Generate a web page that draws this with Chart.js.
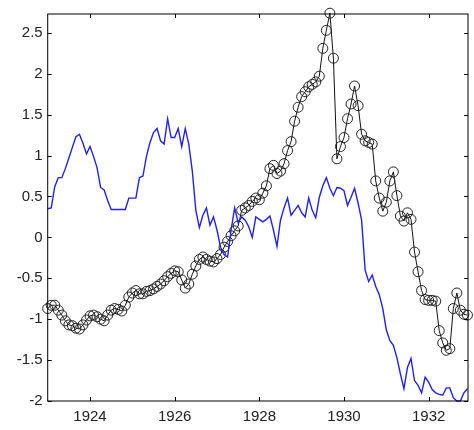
<!DOCTYPE html>
<html>
<head>
<meta charset="utf-8">
<script src="https://cdn.jsdelivr.net/npm/chart.js@4/dist/chart.umd.min.js"></script>
<style>
    html, body { margin: 0; padding: 0; background: #fff; }
    #wrap { width: 474px; height: 430px; }
</style>
</head>
<body>
<div id="wrap"><canvas id="chart" width="474" height="430"></canvas></div>
<script>
// Первый месяц ряда и шаг (помесячные данные)
const startYear = 1923;
const xTicks = [1924, 1926, 1928, 1930, 1932];
const yTicks = [-2, -1.5, -1, -0.5, 0, 0.5, 1, 1.5, 2, 2.5];

// Синяя линия
const blueValues = [
    0.35, 0.36, 0.62, 0.73, 0.73, 0.84, 0.97, 1.10, 1.23, 1.26, 1.15, 1.02,
    1.11, 0.99, 0.85, 0.61, 0.58, 0.45, 0.34, 0.34, 0.34, 0.34, 0.34, 0.48,
    0.48, 0.48, 0.73, 0.75, 0.99, 1.16, 1.28, 1.33, 1.18, 1.14, 1.45, 1.22,
    1.22, 1.33, 1.11, 1.33, 1.14, 0.81, 0.33, 0.12, 0.27, 0.36, 0.15, 0.25,
    0.09, -0.12, -0.21, -0.24, 0.09, 0.36, 0.18, 0.25, 0.21, 0.13, 0.00, 0.25,
    0.22, 0.19, 0.22, 0.26, 0.09, -0.11, 0.21, 0.36, 0.48, 0.27, 0.33, 0.39,
    0.30, 0.25, 0.48, 0.33, 0.24, 0.49, 0.63, 0.73, 0.60, 0.51, 0.61, 0.60,
    0.57, 0.39, 0.49, 0.60, 0.42, 0.21, -0.40, -0.54, -0.46, -0.60, -0.70, -0.87,
    -1.13, -1.26, -1.32, -1.47, -1.67, -1.85, -1.59, -1.48, -1.75, -1.81, -1.90, -1.71,
    -1.77, -1.86, -1.90, -1.92, -1.93, -1.84, -1.84, -1.96, -2.00, -2.00, -1.90, -1.85
];

// Черная линия с кружками
const blackValues = [
    -0.87, -0.83, -0.83, -0.89, -0.95, -1.02, -1.07, -1.08, -1.11, -1.12, -1.07, -1.01,
    -0.96, -0.95, -0.97, -1.00, -1.02, -0.95, -0.89, -0.87, -0.88, -0.90, -0.83, -0.73,
    -0.68, -0.65, -0.69, -0.69, -0.66, -0.65, -0.63, -0.60, -0.57, -0.53, -0.48, -0.44,
    -0.41, -0.42, -0.52, -0.62, -0.57, -0.45, -0.35, -0.27, -0.24, -0.27, -0.29, -0.30,
    -0.26, -0.21, -0.12, -0.05, 0.02, 0.08, 0.14, 0.33, 0.36, 0.39, 0.44, 0.48,
    0.46, 0.54, 0.63, 0.84, 0.88, 0.78, 0.81, 0.90, 1.06, 1.17, 1.42, 1.59,
    1.72, 1.78, 1.84, 1.87, 1.90, 1.97, 2.31, 2.53, 2.74, 2.19, 0.96, 1.11,
    1.22, 1.45, 1.63, 1.85, 1.61, 1.26, 1.18, 1.16, 1.14, 0.69, 0.48, 0.32,
    0.43, 0.69, 0.80, 0.51, 0.26, 0.20, 0.30, 0.22, -0.18, -0.42, -0.65, -0.76,
    -0.77, -0.77, -0.78, -1.14, -1.29, -1.38, -1.36, -0.87, -0.68, -0.89, -0.94, -0.95
];

// Отметки времени
const timesLabels = [];
for (let n = 0; n < blueValues.length; n++) {
    timesLabels.push(startYear + n / 12);
}

function toPoints(values) {
    return values.map((v, i) => ({ x: timesLabels[i], y: v }));
}

//Рамка и засечки внутрь, как в MATLAB
const boxPlugin = {
    id: 'box',
    afterDraw(chart) {
        const ctx = chart.ctx;
        const a = chart.chartArea;
        const xs = chart.scales.x;
        const ys = chart.scales.y;
        const len = 4;
        ctx.save();
        ctx.strokeStyle = '#000';
        ctx.lineWidth = 1;
        ctx.strokeRect(a.left, a.top, a.right - a.left, a.bottom - a.top);
        ctx.beginPath();
        xTicks.forEach(t => {
            const px = Math.round(xs.getPixelForValue(t)) + 0.5;
            ctx.moveTo(px, a.bottom); ctx.lineTo(px, a.bottom - len);
            ctx.moveTo(px, a.top); ctx.lineTo(px, a.top + len);
        });
        yTicks.forEach(t => {
            const py = Math.round(ys.getPixelForValue(t)) + 0.5;
            ctx.moveTo(a.left, py); ctx.lineTo(a.left + len, py);
            ctx.moveTo(a.right, py); ctx.lineTo(a.right - len, py);
        });
        ctx.stroke();
        ctx.restore();
    }
};

const data = {
    datasets: [
        {
            label: 'blue',
            data: toPoints(blueValues),
            borderColor: '#2020ff',
            borderWidth: 1.4,
            pointRadius: 0,
            tension: 0,
            clip: 8
        },
        {
            label: 'black',
            data: toPoints(blackValues),
            borderColor: '#111',
            borderWidth: 1,
            pointRadius: 5,
            pointStyle: 'circle',
            pointBorderColor: '#222',
            pointBorderWidth: 1,
            pointBackgroundColor: 'rgba(0,0,0,0)',
            tension: 0,
            clip: 8
        }
    ]
};

const tickFont = { family: 'Liberation Sans, Arial, sans-serif', size: 15 };

const config = {
    type: 'line',
    data,
    options: {
        responsive: false,
        animation: false,
        events: [],
        layout: { padding: { top: 5, right: 3, left: 0, bottom: 0 } },
        plugins: {
            legend: { display: false },
            tooltip: { enabled: false }
        },
        scales: {
            x: {
                type: 'linear',
                min: 1923,
                max: 1932.93,
                grid: { display: false, drawTicks: false },
                border: { display: false },
                afterBuildTicks: s => { s.ticks = xTicks.map(v => ({ value: v })); },
                afterFit: s => { s.height = 29; },
                ticks: {
                    color: '#222',
                    font: tickFont,
                    padding: 7,
                    maxRotation: 0,
                    autoSkip: false,
                    callback: v => String(v)
                }
            },
            y: {
                type: 'linear',
                min: -2,
                max: 2.73,
                grid: { display: false, drawTicks: false },
                border: { display: false },
                afterBuildTicks: s => { s.ticks = yTicks.map(v => ({ value: v })); },
                afterFit: s => { s.width = 47.7; },
                ticks: {
                    color: '#222',
                    font: tickFont,
                    padding: 5,
                    autoSkip: false,
                    callback: v => String(v)
                }
            }
        }
    },
    plugins: [boxPlugin]
};

const commonChart = new Chart(document.getElementById('chart'), config);
</script>
</body>
</html>
